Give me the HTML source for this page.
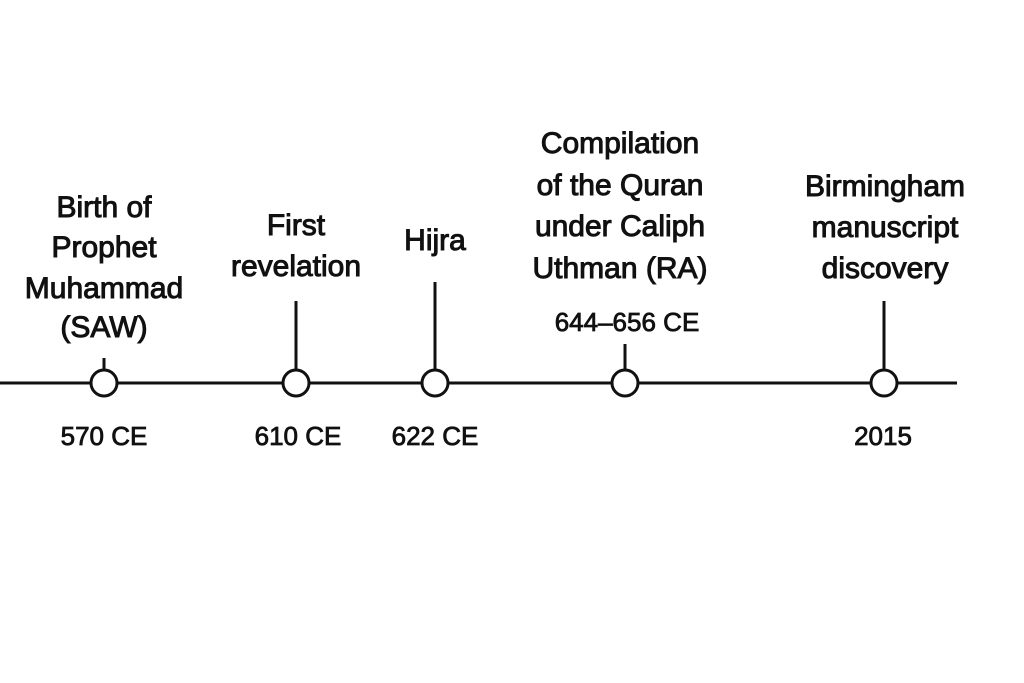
<!DOCTYPE html>
<html><head><style>body{margin:0;background:#fff}svg{display:block}</style></head>
<body>
<svg width="1024" height="683" xmlns="http://www.w3.org/2000/svg" font-family="Liberation Sans, sans-serif" fill="#111">
<rect width="1024" height="683" fill="#fff"/>
<g stroke="#111" stroke-width="3" fill="none">
<line x1="0" y1="383" x2="957" y2="383"/>
<line x1="104" y1="358" x2="104" y2="370"/>
<line x1="296" y1="301" x2="296" y2="370"/>
<line x1="435" y1="282" x2="435" y2="370"/>
<line x1="625" y1="344" x2="625" y2="370"/>
<line x1="884" y1="301" x2="884" y2="370"/>
</g>
<g stroke="#111" stroke-width="3" fill="#fff">
<circle cx="104" cy="383" r="13"/>
<circle cx="296" cy="383" r="13"/>
<circle cx="435" cy="383" r="13"/>
<circle cx="625" cy="383" r="13"/>
<circle cx="884" cy="383" r="13"/>
</g>
<g text-anchor="middle" font-size="30" stroke="#111" stroke-width="1">
<text x="104" y="217">Birth of</text>
<text x="104" y="257">Prophet</text>
<text x="104" y="298">Muhammad</text>
<text x="104" y="337">(SAW)</text>
<text x="296" y="235">First</text>
<text x="296" y="276">revelation</text>
<text x="435" y="250">Hijra</text>
<text x="620" y="153">Compilation</text>
<text x="620" y="195">of the Quran</text>
<text x="620" y="236">under Caliph</text>
<text x="620" y="278">Uthman (RA)</text>
<text x="885" y="196">Birmingham</text>
<text x="885" y="237">manuscript</text>
<text x="885" y="278">discovery</text>
</g>
<g text-anchor="middle" font-size="26" stroke="#111" stroke-width="0.8">
<text x="627" y="331">644–656 CE</text>
<text x="104" y="445">570 CE</text>
<text x="298" y="445">610 CE</text>
<text x="435" y="445">622 CE</text>
<text x="883" y="445">2015</text>
</g>
</svg>
</body></html>
